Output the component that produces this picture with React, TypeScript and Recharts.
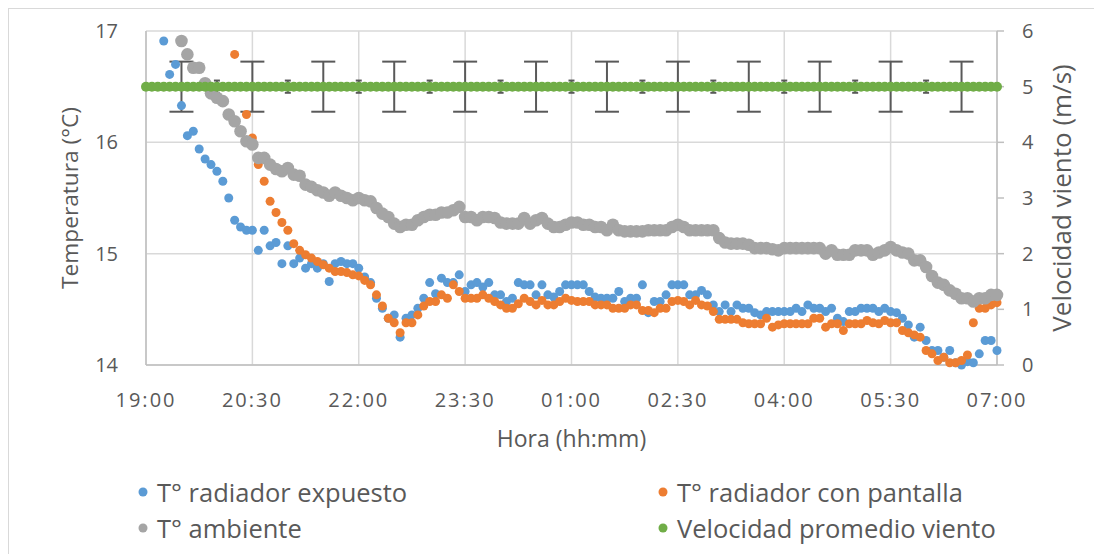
import { ScatterChart, Scatter, XAxis, YAxis, CartesianGrid, ErrorBar } from "recharts";

// sample times, minutes after 19:00 (one reading every 5 min)
const minutes = [
  0, 5, 10, 15, 20, 25, 30, 35, 40, 45, 50, 55, 60, 65, 70, 75, 80, 85, 90, 95,
  100, 105, 110, 115, 120, 125, 130, 135, 140, 145, 150, 155, 160, 165, 170, 175, 180, 185, 190, 195,
  200, 205, 210, 215, 220, 225, 230, 235, 240, 245, 250, 255, 260, 265, 270, 275, 280, 285, 290, 295,
  300, 305, 310, 315, 320, 325, 330, 335, 340, 345, 350, 355, 360, 365, 370, 375, 380, 385, 390, 395,
  400, 405, 410, 415, 420, 425, 430, 435, 440, 445, 450, 455, 460, 465, 470, 475, 480, 485, 490, 495,
  500, 505, 510, 515, 520, 525, 530, 535, 540, 545, 550, 555, 560, 565, 570, 575, 580, 585, 590, 595,
  600, 605, 610, 615, 620, 625, 630, 635, 640, 645, 650, 655, 660, 665, 670, 675, 680, 685, 690, 695,
  700, 705, 710, 715, 720,
];

const hourTicks = [0, 90, 180, 270, 360, 450, 540, 630, 720];
const hourLabels = ["19:00", "20:30", "22:00", "23:30", "01:00", "02:30", "04:00", "05:30", "07:00"];
const tempTicks = [14, 15, 16, 17];
const windTicks = [0, 1, 2, 3, 4, 5, 6];

const radiadorExpuesto = [
  null, null, null, 16.91, 16.61, 16.7, 16.33, 16.06, 16.1, 15.94, 15.85, 15.8, 15.74, 15.65, 15.5, 15.3, 15.24, 15.21, 15.21, 15.03,
  15.21, 15.07, 15.1, 14.91, 15.07, 14.91, 14.96, 14.87, 14.91, 14.87, 14.91, 14.75, 14.91, 14.93, 14.91, 14.91, 14.87,
  14.79, 14.74, 14.6, 14.51, 14.42, 14.45, 14.25, 14.42, 14.45, 14.51, 14.6, 14.74, 14.64, 14.78, 14.74, 14.74, 14.81, 14.66,
  14.72, 14.74, 14.7, 14.74, 14.63, 14.63, 14.57, 14.6, 14.74, 14.72, 14.72, 14.63, 14.72, 14.63, 14.61, 14.66, 14.72, 14.72,
  14.72, 14.72, 14.66, 14.61, 14.6, 14.6, 14.6, 14.66, 14.57, 14.6, 14.6, 14.72, 14.47, 14.57, 14.57, 14.63, 14.72, 14.72,
  14.72, 14.63, 14.63, 14.67, 14.63, 14.54, 14.48, 14.54, 14.48, 14.54, 14.51, 14.51, 14.47, 14.45, 14.48, 14.48, 14.48, 14.48,
  14.48, 14.51, 14.48, 14.54, 14.51, 14.51, 14.48, 14.51, 14.42, 14.39, 14.48, 14.48, 14.51, 14.51, 14.51, 14.48, 14.51, 14.48,
  14.47, 14.42, 14.36, 14.25, 14.34, 14.22, 14.13, 14.13, 14.07, 14.13, 14.02, 14.0, 14.03, 14.02, 14.1, 14.22, 14.22, 14.13,
];

const radiadorPantalla = [
  null, null, null, null, null, null, null, null, null, null, null, null, null, null, null, 16.79, null,
  16.25, 16.04, 15.8, 15.65, 15.47, 15.37, 15.28, 15.21, 15.09, 15.03, 14.99, 14.96, 14.93, 14.9, 14.87, 14.84, 14.84, 14.83, 14.81, 14.8,
  14.76, 14.72, 14.63, 14.53, 14.42, 14.38, 14.29, 14.38, 14.38, 14.45, 14.53, 14.57, 14.57, 14.63, 14.6, 14.72, 14.66, 14.6,
  14.6, 14.6, 14.63, 14.6, 14.57, 14.54, 14.51, 14.51, 14.55, 14.6, 14.57, 14.54, 14.58, 14.54, 14.54, 14.57, 14.6, 14.58,
  14.57, 14.57, 14.57, 14.54, 14.54, 14.54, 14.51, 14.51, 14.51, 14.54, 14.54, 14.49, 14.49, 14.47, 14.51, 14.51, 14.57, 14.58,
  14.57, 14.54, 14.58, 14.54, 14.53, 14.48, 14.41, 14.41, 14.41, 14.41, 14.38, 14.37, 14.37, 14.37, 14.42, 14.34, 14.36, 14.37,
  14.37, 14.37, 14.37, 14.37, 14.42, 14.42, 14.34, 14.37, 14.37, 14.31, 14.37, 14.37, 14.37, 14.4, 14.38, 14.37, 14.4, 14.38,
  14.38, 14.31, 14.29, 14.27, 14.25, 14.13, 14.1, 14.04, 14.07, 14.02, 14.02, 14.04, 14.09, 14.38, 14.51, 14.51, 14.54, 14.56,
];

const ambiente = [
  null, null, null, null, null, null,
  16.91, 16.79, 16.67, 16.67, 16.53, 16.44, 16.4, 16.37, 16.25, 16.19, 16.1, 16.01, 15.98, 15.86, 15.86, 15.8, 15.76, 15.74, 15.77,
  15.71, 15.7, 15.62, 15.6, 15.57, 15.55, 15.52, 15.55, 15.52, 15.5, 15.48, 15.5,
  15.48, 15.47, 15.41, 15.36, 15.33, 15.27, 15.24, 15.26, 15.26, 15.3, 15.33, 15.35, 15.35, 15.37, 15.37, 15.39, 15.42, 15.33,
  15.33, 15.3, 15.33, 15.33, 15.32, 15.28, 15.27, 15.27, 15.27, 15.32, 15.27, 15.3, 15.32, 15.27, 15.24, 15.24, 15.26, 15.28,
  15.28, 15.26, 15.26, 15.24, 15.24, 15.21, 15.26, 15.21, 15.2, 15.2, 15.2, 15.2, 15.21, 15.21, 15.21, 15.21, 15.24, 15.26,
  15.24, 15.21, 15.21, 15.21, 15.21, 15.21, 15.14, 15.1, 15.09, 15.09, 15.09, 15.08, 15.05, 15.05, 15.05, 15.04, 15.03, 15.05,
  15.05, 15.05, 15.05, 15.05, 15.05, 15.05, 15.0, 15.03, 14.99, 14.99, 14.99, 15.03, 15.03, 15.03, 14.99, 15.01, 15.03, 15.06,
  15.03, 15.01, 15.0, 14.94, 14.94, 14.88, 14.8, 14.74, 14.72, 14.67, 14.64, 14.6, 14.6, 14.57, 14.6, 14.6, 14.63, 14.63,
];

const vientoPromedio = [
  5, 5, 5, 5, 5, 5, 5, 5, 5, 5, 5, 5, 5, 5, 5, 5, 5, 5, 5, 5,
  5, 5, 5, 5, 5, 5, 5, 5, 5, 5, 5, 5, 5, 5, 5, 5, 5, 5, 5, 5,
  5, 5, 5, 5, 5, 5, 5, 5, 5, 5, 5, 5, 5, 5, 5, 5, 5, 5, 5, 5,
  5, 5, 5, 5, 5, 5, 5, 5, 5, 5, 5, 5, 5, 5, 5, 5, 5, 5, 5, 5,
  5, 5, 5, 5, 5, 5, 5, 5, 5, 5, 5, 5, 5, 5, 5, 5, 5, 5, 5, 5,
  5, 5, 5, 5, 5, 5, 5, 5, 5, 5, 5, 5, 5, 5, 5, 5, 5, 5, 5, 5,
  5, 5, 5, 5, 5, 5, 5, 5, 5, 5, 5, 5, 5, 5, 5, 5, 5, 5, 5, 5,
  5, 5, 5, 5, 5,
];

// error bars on the wind series (minutes after 19:00, ± m/s)
const wideBarMinutes = [30, 90, 150, 210, 270, 330, 390, 450, 510, 570, 630, 690];
const wideBarErrors = [0.45, 0.45, 0.45, 0.45, 0.45, 0.45, 0.45, 0.45, 0.45, 0.45, 0.45, 0.45];
const smallBarMinutes = [60, 120, 180, 240, 300, 360, 420, 480, 540, 600, 660];
const smallBarErrors = [0.11, 0.11, 0.11, 0.11, 0.11, 0.11, 0.11, 0.11, 0.11, 0.11, 0.11];

const toPoints = (values: (number | null)[]) =>
  minutes.map((t, i) => ({ t, v: values[i] })).filter((p) => p.v !== null);

const windData = minutes.map((t, i) => {
  const w = wideBarMinutes.indexOf(t);
  const s = smallBarMinutes.indexOf(t);
  return {
    t,
    v: vientoPromedio[i],
    err: w >= 0 ? wideBarErrors[w] : null,
    errSmall: s >= 0 ? smallBarErrors[s] : null,
  };
});

const series = [
  { name: "T° radiador expuesto", color: "#5B9BD5" },
  { name: "T° radiador con pantalla", color: "#ED7D31" },
  { name: "T° ambiente", color: "#A5A5A5" },
  { name: "Velocidad promedio viento", color: "#70AD47" },
];

const FONT = "'Open Sans', sans-serif";
const TEXT = "#595959";

const dot = (color: string, r: number) => (props: any) =>
  props.cx == null ? <g /> : <circle cx={props.cx} cy={props.cy} r={r} fill={color} />;

export default function App() {
  return (
    <div
      style={{
        position: "relative",
        width: 1093,
        height: 545,
        borderTop: "1px solid #d9d9d9",
        borderLeft: "1px solid #d9d9d9",
        fontFamily: FONT,
        background: "#fff",
      }}
    >
      <ScatterChart width={1093} height={545} margin={{ top: 22, right: 0, bottom: 129, left: 0 }}>
        <CartesianGrid yAxisId="left" stroke="#d9d9d9" strokeWidth={1.5} />
        <XAxis
          type="number"
          dataKey="t"
          domain={[0, 720]}
          ticks={hourTicks}
          tickFormatter={(v: number) => hourLabels[hourTicks.indexOf(v)]}
          height={60}
          tickLine={false}
          tickSize={0}
          tickMargin={28}
          axisLine={{ stroke: "#bfbfbf", strokeWidth: 1.5 }}
          tick={{ fontSize: 20, fill: TEXT, fontFamily: FONT, letterSpacing: 2 }}
          label={{ value: "Hora (hh:mm)", position: "bottom", offset: 6, fontSize: 23, fill: TEXT, fontFamily: FONT }}
        />
        <YAxis
          yAxisId="left"
          type="number"
          dataKey="v"
          domain={[14, 17]}
          ticks={tempTicks}
          width={137}
          tickLine={false}
          tickSize={0}
          tickMargin={28}
          axisLine={{ stroke: "#bfbfbf", strokeWidth: 1.5 }}
          tick={{ fontSize: 20, fill: TEXT, fontFamily: FONT }}
          label={{
            value: "Temperatura (°C)",
            angle: -90,
            position: "insideLeft",
            offset: 61,
            fontSize: 22.7,
            fill: TEXT,
            fontFamily: FONT,
            style: { textAnchor: "middle" },
          }}
        />
        <YAxis
          yAxisId="right"
          orientation="right"
          type="number"
          dataKey="v"
          domain={[0, 6]}
          ticks={windTicks}
          width={105}
          tickSize={7}
          tickMargin={18}
          tickLine={{ stroke: "#bfbfbf", strokeWidth: 1.5 }}
          axisLine={{ stroke: "#bfbfbf", strokeWidth: 1.5 }}
          tick={{ fontSize: 20, fill: TEXT, fontFamily: FONT }}
          label={{
            value: "Velocidad viento (m/s)",
            angle: -90,
            position: "insideRight",
            offset: 40,
            fontSize: 26,
            fill: TEXT,
            fontFamily: FONT,
            style: { textAnchor: "middle" },
          }}
        />
        <Scatter
          name={series[0].name}
          yAxisId="left"
          data={toPoints(radiadorExpuesto)}
          fill={series[0].color}
          shape={dot(series[0].color, 4.5)}
          isAnimationActive={false}
        />
        <Scatter
          name={series[1].name}
          yAxisId="left"
          data={toPoints(radiadorPantalla)}
          fill={series[1].color}
          shape={dot(series[1].color, 4.5)}
          isAnimationActive={false}
        />
        <Scatter
          name={series[2].name}
          yAxisId="left"
          data={toPoints(ambiente)}
          fill={series[2].color}
          shape={dot(series[2].color, 6.3)}
          isAnimationActive={false}
        />
        <Scatter
          name={series[3].name}
          yAxisId="right"
          data={windData}
          fill={series[3].color}
          shape={dot(series[3].color, 5)}
          isAnimationActive={false}
        >
          <ErrorBar dataKey="err" direction="y" width={12} stroke="#595959" strokeWidth={2} />
          <ErrorBar dataKey="errSmall" direction="y" width={3} stroke="#595959" strokeWidth={2} />
        </Scatter>
      </ScatterChart>

      {series.map((s, i) => (
        <div
          key={s.name}
          style={{
            position: "absolute",
            left: i % 2 === 0 ? 129 : 649,
            top: i < 2 ? 466 : 502,
            height: 34,
            display: "flex",
            alignItems: "center",
            fontSize: 25.5,
            color: TEXT,
            whiteSpace: "nowrap",
          }}
        >
          <svg width={10} height={12} style={{ marginRight: 9 }}>
            <circle cx={5} cy={6} r={4.5} fill={s.color} />
          </svg>
          {s.name}
        </div>
      ))}
    </div>
  );
}
